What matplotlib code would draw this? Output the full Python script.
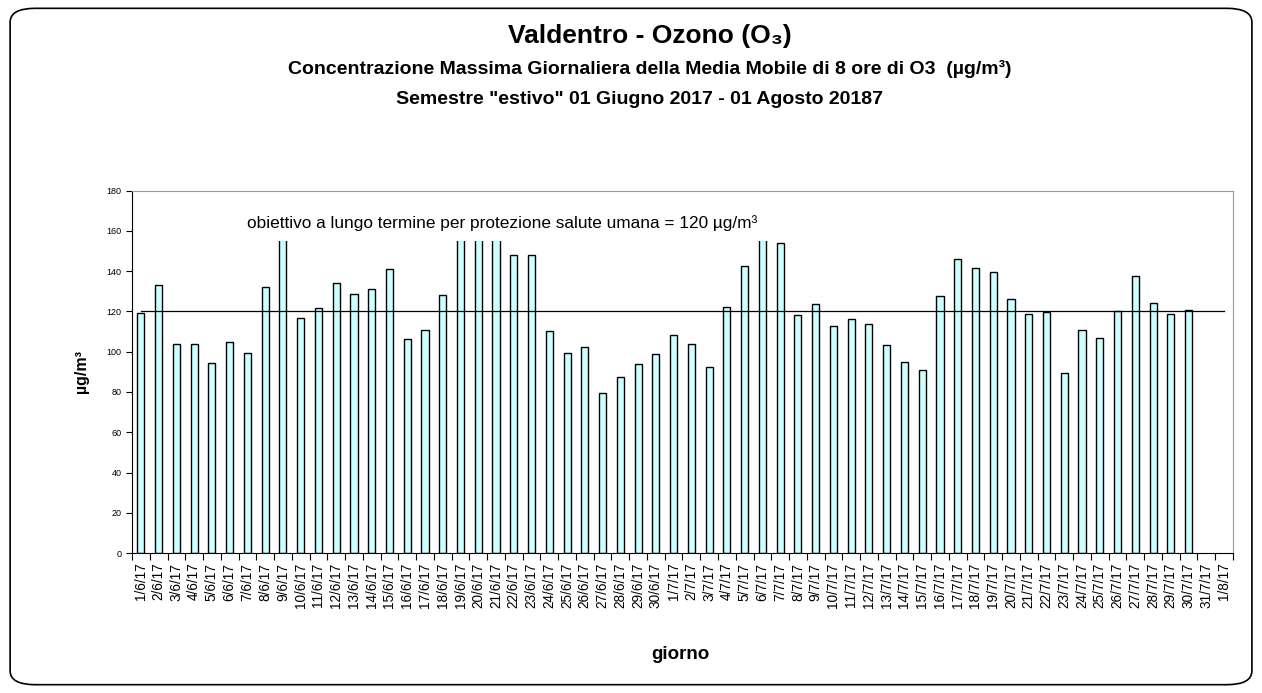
import numpy as np
import pandas as pd
import matplotlib
matplotlib.use('Agg')
import matplotlib.pyplot as plt
from matplotlib.patches import FancyBboxPatch, Rectangle

plt.rcParams['font.family'] = ['Liberation Sans', 'DejaVu Sans']

# days 1/6/17 .. 1/8/17
days = pd.date_range('2017-06-01', '2017-08-01')
day_labels = [f"{d.day}/{d.month}/17" for d in days]

# max daily 8h moving average O3 (ug/m3); bars above ~155 are hidden by the label box
june = [119.0, 133.4, 103.6, 103.6, 94.3, 104.8, 99.6, 132.3, 165.0, 117.0,
        121.7, 134.1, 128.8, 131.4, 140.9, 106.2, 110.9, 128.3, 162.0, 168.0,
        166.0, 148.0, 148.0, 110.2, 99.6, 102.4, 79.7, 87.5, 93.7, 99.0]
july = [108.2, 103.6, 92.2, 122.2, 142.7, 160.0, 154.0, 118.2, 123.5, 112.9,
        116.2, 113.7, 103.1, 95.0, 91.0, 127.5, 146.0, 141.4, 139.6, 126.3,
        118.8, 119.5, 89.5, 110.9, 106.9, 120.2, 137.4, 124.2, 118.8, 120.8,
        np.nan]
august = [np.nan]
values = june + july + august

target = 120
target_text = "obiettivo a lungo termine per protezione salute umana = 120 µg/m³"

fig = plt.figure(figsize=(12.62, 6.93), dpi=100)
fig.patches.append(FancyBboxPatch((0.008, 0.012), 0.984, 0.976,
                                  boxstyle="round,pad=0,rounding_size=0.02",
                                  transform=fig.transFigure, fill=False,
                                  edgecolor='black', linewidth=1.2))

ax = fig.add_axes([0.1046, 0.2020, 0.8724, 0.5228])
x = np.arange(len(days))
ax.bar(x, values, width=0.4, color='#ccffff', edgecolor='black', linewidth=1.0, zorder=2)
ax.plot([x[0], x[-1]], [target, target], color='black', linewidth=0.9, zorder=3)

# white label box (hides the top of the tallest bars, as in the original)
ax.add_patch(Rectangle((0.098, 0.861), 0.499, 0.125, transform=ax.transAxes,
                       facecolor='white', edgecolor='none', zorder=4))
ax.text(0.1045, 164 / 180, target_text, transform=ax.transAxes, fontsize=12.4,
        ha='left', va='center', zorder=5)

ax.set_xlim(-0.5, len(days) - 0.5)
ax.set_ylim(0, 180)
ax.set_yticks(range(0, 181, 20))
ax.tick_params(axis='y', labelsize=6.5, length=4, direction='out', width=0.8)
ax.set_xticks(x)
ax.set_xticklabels(day_labels, rotation=90, fontsize=9.8)
ax.tick_params(axis='x', length=0, pad=7)
ax.set_xticks(np.arange(-0.5, len(days)), minor=True)
ax.tick_params(axis='x', which='minor', length=5, width=0.8)

for s in ['top', 'right']:
    ax.spines[s].set_color('#999999')
for s in ['left', 'bottom']:
    ax.spines[s].set_color('black')

ax.set_ylabel("µg/m³", fontsize=11.5, fontweight='bold')
ax.yaxis.set_label_coords(-0.039, 0.5)
ax.set_xlabel("giorno", fontsize=13.5, fontweight='bold', va='center')
ax.xaxis.set_label_coords(0.539, 0.055, transform=fig.transFigure)

fig.text(0.515, 0.948, "Valdentro - Ozono (O₃)", fontsize=19, fontweight='bold', ha='center', va='center')
fig.text(0.515, 0.900, "Concentrazione Massima Giornaliera della Media Mobile di 8 ore di O3  (µg/m³)",
         fontsize=14, fontweight='bold', ha='center', va='center')
fig.text(0.507, 0.857, 'Semestre "estivo" 01 Giugno 2017 - 01 Agosto 20187',
         fontsize=14, fontweight='bold', ha='center', va='center')

fig.savefig('out.png', dpi=100)
